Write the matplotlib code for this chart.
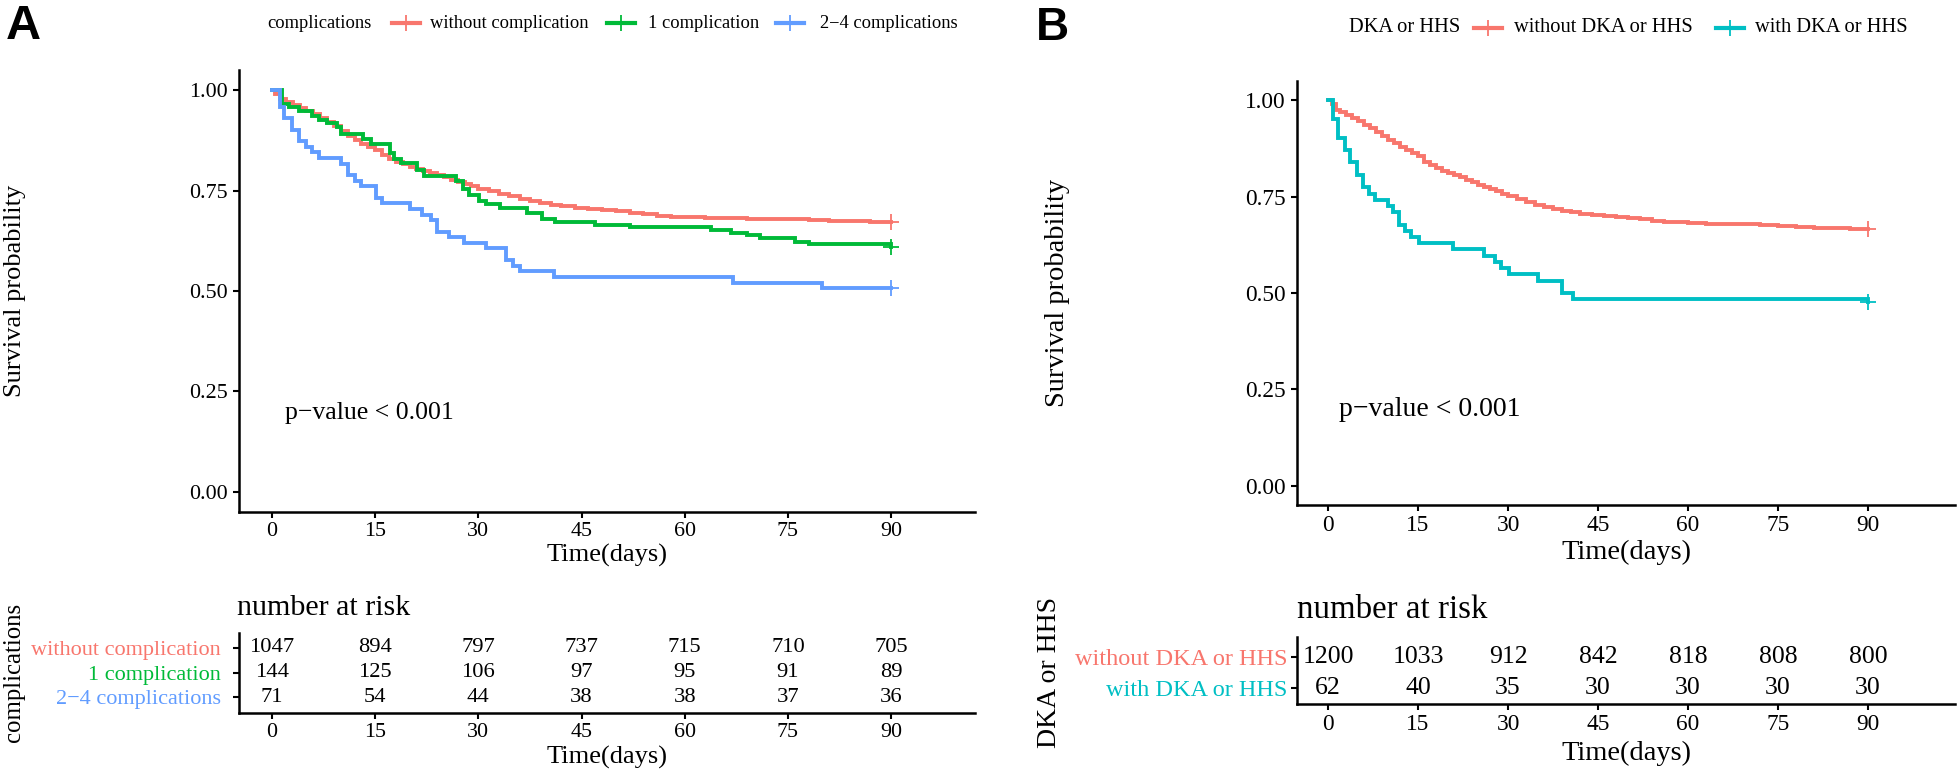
import matplotlib
matplotlib.use("Agg")
import matplotlib.pyplot as plt
from matplotlib.lines import Line2D

plt.rcParams['font.family'] = ['Liberation Serif', 'DejaVu Serif']

# ---------------- data ----------------
time_ticks = [0, 15, 30, 45, 60, 75, 90]
y_ticks = [0.00, 0.25, 0.50, 0.75, 1.00]
y_tick_labels = ["0.00", "0.25", "0.50", "0.75", "1.00"]

groups_A = ["without complication", "1 complication", "2\u22124 complications"]
colors_A = ["#F8766D", "#00BA38", "#619CFF"]
groups_B = ["without DKA or HHS", "with DKA or HHS"]
colors_B = ["#F8766D", "#00BFC4"]

# Panel A survival curves (time in days, survival probability)
a_none_t = [0, 0.5, 1.2, 2, 3, 4, 5, 6, 7, 8, 9, 10, 11, 12, 13, 14, 15, 16, 17, 18, 19, 20,
            21, 22, 23, 24, 25, 26, 27, 28, 29, 30, 31.5, 33, 34.5, 36, 37.5, 39, 40.5, 42,
            44, 46, 48, 50, 52, 54, 56, 58, 60, 63, 66, 69, 72, 75, 78, 81, 84, 87, 90]
a_none_s = [1.000, 0.990, 0.977, 0.970, 0.963, 0.955, 0.948, 0.940, 0.931, 0.921, 0.910, 0.897,
            0.885, 0.875, 0.866, 0.858, 0.852, 0.838, 0.829, 0.822, 0.815, 0.809, 0.804, 0.799,
            0.794, 0.788, 0.783, 0.777, 0.772, 0.766, 0.761, 0.755, 0.749, 0.742, 0.736, 0.730,
            0.725, 0.719, 0.715, 0.711, 0.706, 0.703, 0.701, 0.699, 0.695, 0.691, 0.687, 0.684,
            0.683, 0.682, 0.681, 0.680, 0.679, 0.678, 0.676, 0.675, 0.674, 0.672, 0.671]

a_one_t = [0, 1.4, 2.4, 3.9, 5.8, 6.9, 8.0, 9.4, 10.0, 13.2, 14.4, 17.1, 17.8, 18.8, 21.1, 22.1,
           26.8, 27.7, 28.6, 30.1, 31.1, 33.2, 37.0, 39.2, 41.1, 47.0, 52.0, 63.8, 66.7, 69.0,
           71.0, 76.0, 78.0, 90.0]
a_one_s = [1.000, 0.965, 0.957, 0.947, 0.936, 0.926, 0.918, 0.909, 0.890, 0.878, 0.865, 0.843,
           0.829, 0.819, 0.800, 0.786, 0.773, 0.754, 0.740, 0.723, 0.716, 0.707, 0.694, 0.678,
           0.672, 0.665, 0.660, 0.652, 0.645, 0.639, 0.631, 0.623, 0.617, 0.609]

a_two_t = [0, 1.2, 1.8, 2.9, 3.9, 5.0, 5.8, 6.9, 10.0, 11.0, 12.0, 13.0, 15.1, 16.0, 20.0, 21.8,
           23.1, 24.0, 25.8, 27.9, 31.1, 34.0, 35.1, 36.0, 41.0, 67.0, 80.0, 90.0]
a_two_s = [1.000, 0.958, 0.930, 0.901, 0.873, 0.859, 0.845, 0.831, 0.817, 0.789, 0.775, 0.761,
           0.732, 0.718, 0.704, 0.690, 0.676, 0.648, 0.634, 0.620, 0.606, 0.577, 0.563, 0.549,
           0.535, 0.521, 0.507, 0.507]

# Panel B survival curves
b_none_t = [0, 0.7, 1.3, 2, 3, 4, 5, 6, 7, 8, 9, 10, 11, 12, 13, 14, 15, 16, 17, 18, 19, 20, 21,
            22, 23, 24, 25, 26, 27, 28, 29, 30, 31.5, 33, 34.5, 36, 37.5, 39, 40.5, 42, 44, 46,
            48, 50, 52, 54, 56, 58, 60, 63, 66, 69, 72, 75, 78, 81, 84, 87, 90]
b_none_s = [1.000, 0.990, 0.976, 0.970, 0.961, 0.953, 0.945, 0.936, 0.927, 0.917, 0.907, 0.898,
            0.889, 0.879, 0.870, 0.862, 0.855, 0.841, 0.831, 0.823, 0.816, 0.811, 0.806, 0.800,
            0.794, 0.787, 0.781, 0.776, 0.770, 0.764, 0.758, 0.752, 0.744, 0.736, 0.729, 0.723,
            0.718, 0.713, 0.709, 0.705, 0.702, 0.700, 0.698, 0.695, 0.691, 0.688, 0.685, 0.683,
            0.682, 0.680, 0.679, 0.678, 0.676, 0.673, 0.671, 0.669, 0.668, 0.667, 0.666]

b_with_t = [0, 0.8, 1.6, 2.8, 3.7, 4.8, 5.8, 6.9, 7.9, 10.0, 10.9, 11.8, 12.8, 13.9, 15.2, 20.9,
            26.0, 27.8, 28.9, 30.2, 35.0, 39.0, 40.9, 90.0]
b_with_s = [1.000, 0.952, 0.903, 0.871, 0.839, 0.806, 0.774, 0.758, 0.742, 0.726, 0.710, 0.677,
            0.661, 0.645, 0.629, 0.613, 0.597, 0.581, 0.565, 0.548, 0.532, 0.500, 0.484, 0.476]

# Numbers at risk
risk_A_none = [1047, 894, 797, 737, 715, 710, 705]
risk_A_one = [144, 125, 106, 97, 95, 91, 89]
risk_A_two = [71, 54, 44, 38, 38, 37, 36]
risk_B_none = [1200, 1033, 912, 842, 818, 808, 800]
risk_B_with = [62, 40, 35, 30, 30, 30, 30]

# ---------------- figure ----------------
W, H = 1960, 775
fig = plt.figure(figsize=(W / 100, H / 100), dpi=100)


def rect(l, t, r, b):
    return [l / W, 1 - b / H, (r - l) / W, (b - t) / H]


def fx(x):
    return x / W


def fy(y):
    return 1 - y / H


def style_axis(ax, fs, ypad=4):
    for s in ["top", "right"]:
        ax.spines[s].set_visible(False)
    for s in ["left", "bottom"]:
        ax.spines[s].set_linewidth(1.8)
        ax.spines[s].set_color("black")
    ax.tick_params(axis="x", length=4, width=1.5, color="black", labelsize=fs, pad=3)
    ax.tick_params(axis="y", length=4, width=1.5, color="black", labelsize=fs, pad=ypad)


def km_panel(ax, curves, colors, xlim, fs, pfs):
    for (t, s), c in zip(curves, colors):
        ax.step(t, s, where="post", color=c, lw=2.8, solid_joinstyle="miter")
        ax.plot([t[-1]], [s[-1]], marker="+", color=c, ms=11, mew=1.3)
    ax.set_xlim(*xlim)
    ax.set_ylim(-0.05, 1.05)
    ax.set_xticks(time_ticks)
    ax.set_xticklabels([str(v) for v in time_ticks])
    ax.set_yticks(y_ticks)
    ax.set_yticklabels(y_tick_labels)
    style_axis(ax, fs, ypad=4)
    ax.text(1.9, 0.197, "p\u2212value < 0.001", fontsize=pfs, ha="left", va="center")


def risk_panel(ax, risks, groups, colors, xlim, ylim, fs, nfs, lfs, ypad):
    n = len(groups)
    ypos = list(range(n, 0, -1))
    for r, y in zip(risks, ypos):
        for tt, v in zip(time_ticks, r):
            ax.text(tt, y, str(v), ha="center", va="center", fontsize=nfs)
    ax.set_xlim(*xlim)
    ax.set_ylim(*ylim)
    ax.set_xticks(time_ticks)
    ax.set_xticklabels([str(v) for v in time_ticks])
    ax.set_yticks(ypos)
    ax.set_yticklabels(groups)
    style_axis(ax, fs, ypad=ypad)
    for lab, c in zip(ax.get_yticklabels(), colors):
        lab.set_color(c)
        lab.set_fontsize(lfs)


def legend(items, title, x_title, key_centers, label_lefts, y, fs):
    fig.text(fx(x_title), fy(y), title, fontsize=fs, ha="left", va="center")
    for (lab, c), kc, ll in zip(items, key_centers, label_lefts):
        fig.add_artist(Line2D([fx(kc - 14), fx(kc + 14)], [fy(y), fy(y)], color=c, lw=3.0,
                              transform=fig.transFigure))
        fig.add_artist(Line2D([fx(kc)], [fy(y)], marker="+", color=c, ms=12, mew=1.3,
                              transform=fig.transFigure))
        fig.text(fx(ll), fy(y), lab, fontsize=fs, ha="left", va="center")


# ----- Panel A -----
xlimA = (-4.8, 102.2)
axA = fig.add_axes(rect(239, 70, 975, 512))
km_panel(axA, [(a_none_t, a_none_s), (a_one_t, a_one_s), (a_two_t, a_two_s)],
         colors_A, xlimA, 15.8, 18.5)
tA = fig.add_axes(rect(239, 633, 975, 713))
risk_panel(tA, [risk_A_none, risk_A_one, risk_A_two], groups_A, colors_A, xlimA,
           (0.35, 3.61), 15.8, 16.2, 16.0, 9)

fig.text(fx(6), fy(4), "A", fontsize=35, fontweight="bold", family="Liberation Sans",
         ha="left", va="top")
legend(list(zip(groups_A, colors_A)), "complications", 267, [406, 621, 790],
       [430, 648, 820], 23, 13.3)
fig.text(fx(15), fy(291), "Survival probability", rotation=90, fontsize=19,
         ha="center", va="center")
fig.text(fx(607), fy(555), "Time(days)", fontsize=19, ha="center", va="center")
fig.text(fx(237), fy(608), "number at risk", fontsize=21.6, ha="left", va="center")
fig.text(fx(607), fy(757), "Time(days)", fontsize=19, ha="center", va="center")
fig.text(fx(14), fy(672), "complications", rotation=90, fontsize=17.8,
         ha="center", va="center")

# ----- Panel B -----
xlimB = (-5.17, 104.5)
axB = fig.add_axes(rect(1297, 81, 1955, 505))
km_panel(axB, [(b_none_t, b_none_s), (b_with_t, b_with_s)], colors_B, xlimB, 16.8, 20)
tB = fig.add_axes(rect(1297, 637, 1955, 704))
risk_panel(tB, [risk_B_none, risk_B_with], groups_B, colors_B, xlimB,
           (0.48, 2.65), 16.8, 18.5, 17.5, 3)

fig.text(fx(1036), fy(6), "B", fontsize=33, fontweight="bold", family="Liberation Sans",
         ha="left", va="top")
legend(list(zip(groups_B, colors_B)), "DKA or HHS", 1349, [1488, 1730], [1514, 1755], 28, 14.8)
fig.text(fx(1057), fy(293), "Survival probability", rotation=90, fontsize=20.5,
         ha="center", va="center")
fig.text(fx(1626), fy(552), "Time(days)", fontsize=20.5, ha="center", va="center")
fig.text(fx(1297), fy(610), "number at risk", fontsize=23.7, ha="left", va="center")
fig.text(fx(1626), fy(753), "Time(days)", fontsize=20.5, ha="center", va="center")
fig.text(fx(1049), fy(672), "DKA or HHS", rotation=90, fontsize=20,
         ha="center", va="center")

fig.savefig("out.png", dpi=100)
